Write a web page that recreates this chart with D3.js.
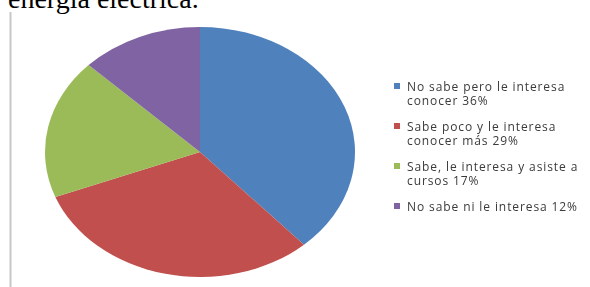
<!DOCTYPE html>
<html lang="es">
<head>
<meta charset="utf-8">
<script src="https://d3js.org/d3.v7.min.js"></script>
<style>
  body { margin: 0; background: #fff; }
</style>
</head>
<body>
<svg id="chart" width="590" height="287"></svg>
<script>
  // pie data
  const categories = ["No sabe pero le interesa conocer 36%", "Sabe poco y le interesa conocer más 29%",
    "Sabe, le interesa y asiste a cursos 17%", "No sabe ni le interesa 12%"];
  const legendLines = [
    ["No sabe pero le interesa", "conocer 36%"],
    ["Sabe poco y le interesa", "conocer más 29%"],
    ["Sabe, le interesa y asiste a", "cursos 17%"],
    ["No sabe ni le interesa 12%"]
  ];
  const values = [36, 29, 17, 12];
  const colors = ["#4f81bd", "#c0504d", "#9bbb59", "#8064a2"];

  const svg = d3.select("#chart");

  const defs = svg.append("defs");
  defs.append("filter").attr("id", "soft")
    .append("feGaussianBlur").attr("stdDeviation", 0.45);

  // cut-off heading from the document above
  svg.append("text")
    .text("energía eléctrica.")
    .attr("x", 8)
    .attr("y", 8)
    .style("font-family", "'Liberation Serif', 'Times New Roman', serif")
    .style("font-size", "28px")
    .style("fill", "#000");

  // left border of the frame
  svg.append("line")
    .attr("x1", 10.5).attr("x2", 10.5)
    .attr("y1", 12).attr("y2", 287)
    .style("stroke", "#c8c8c8")
    .style("stroke-width", 2);

  // pie (drawn as a circle, then stretched horizontally like the source)
  const ry = 125, rx = 155;
  const cx = 200, cy = 152;

  const pie = d3.pie().sort(null).value(d => d);
  const arc = d3.arc().innerRadius(0).outerRadius(ry);

  const pieG = svg.append("g")
    .attr("transform", `translate(${cx},${cy}) scale(${rx / ry},1)`)
    .attr("filter", "url(#soft)");

  pieG.selectAll("path").data(pie(values))
    .join("path")
    .attr("d", arc)
    .style("fill", (d, i) => colors[i]);

  // legend
  const legendY = d3.scalePoint().domain(d3.range(values.length)).range([86, 206]);
  const legend = svg.append("g").attr("filter", "url(#soft)");

  const items = legend.selectAll("g").data(legendLines)
    .join("g")
    .attr("transform", (d, i) => `translate(0,${legendY(i)})`);

  items.append("rect")
    .attr("x", 394).attr("y", -3)
    .attr("width", 6).attr("height", 6)
    .style("fill", (d, i) => colors[i]);

  // one text per line
  items.selectAll("text").data(d => d)
    .join("text")
    .attr("x", 407)
    .attr("y", (d, j) => j * 14.5)
    .attr("dominant-baseline", "central")
    .style("font-family", "'Open Sans', sans-serif")
    .style("font-size", "12px")
    .style("letter-spacing", "0.9px")
    .style("fill", "#3a3a3a")
    .text(d => d);
</script>
</body>
</html>
